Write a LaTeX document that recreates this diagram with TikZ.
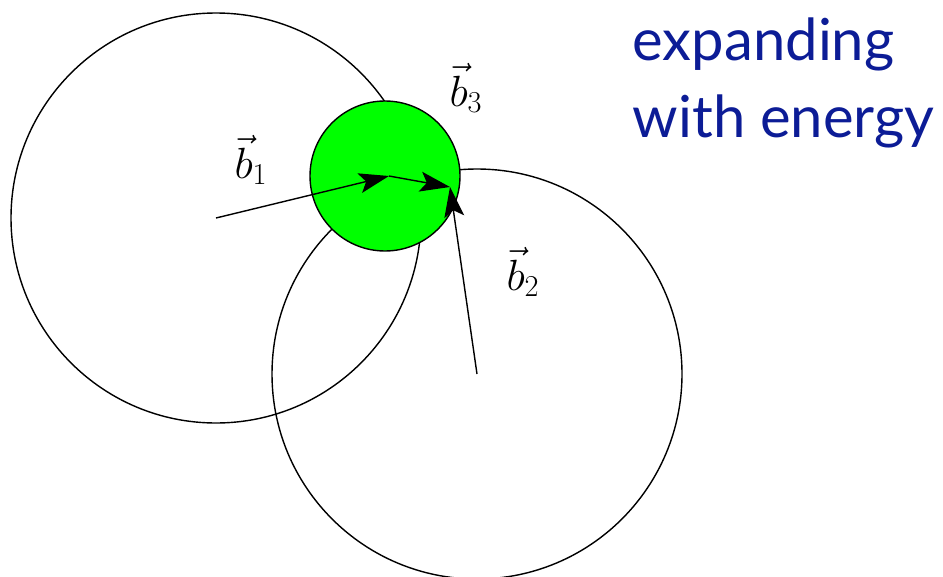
\documentclass[tikz,border=0pt]{standalone}
\usepackage{amsmath}
\usepackage{fontspec}
\usepackage{tikz}
\usetikzlibrary{arrows.meta}
\newfontfamily\labelfont{Lato}
\definecolor{fieldgreen}{HTML}{00FF00}
\definecolor{slideblue}{HTML}{0C1C96}

\begin{document}
\begin{tikzpicture}[
  x=0.02cm, y=0.02cm, line width=0.8pt,
  vec/.style={-{Stealth[length=6mm,width=4mm,inset=1.3mm]}},
  lbl/.style={inner sep=0pt, font=\fontsize{25}{29}\selectfont},
]
\useasboundingbox (0,0) rectangle (943,576);

% ===== centres and tips =====
\coordinate (c1) at (216,358);
\coordinate (c2) at (477,202);
\coordinate (c3) at (385,400);
\coordinate (t1) at (389,400);
\coordinate (t3) at (450,389);

% ===== the two big spheres =====
\draw (c1) circle[radius=205];
\draw (c2) circle[radius=205];

% ===== green overlap sphere =====
\draw[fill=fieldgreen] (c3) circle[radius=75];

% ===== vectors =====
\draw[vec] (c1) -- (t1);
\draw[vec] (t1) -- (t3);
\draw[vec] (c2) -- (t3);

\node[lbl] (lb1) at (251,416) {$\vec{b}_1$};
\node[lbl] (lb2) at (523,304) {$\vec{b}_2$};
\node[lbl] (lb3) at (466,488) {$\vec{b}_3$};

% ===== caption =====
\node[anchor=north west, inner sep=0pt, align=left, text=slideblue,
      font=\labelfont\fontsize{33}{44}\selectfont] (cap) at (632,559)
  {expanding\\with energy};
\end{tikzpicture}
\end{document}
